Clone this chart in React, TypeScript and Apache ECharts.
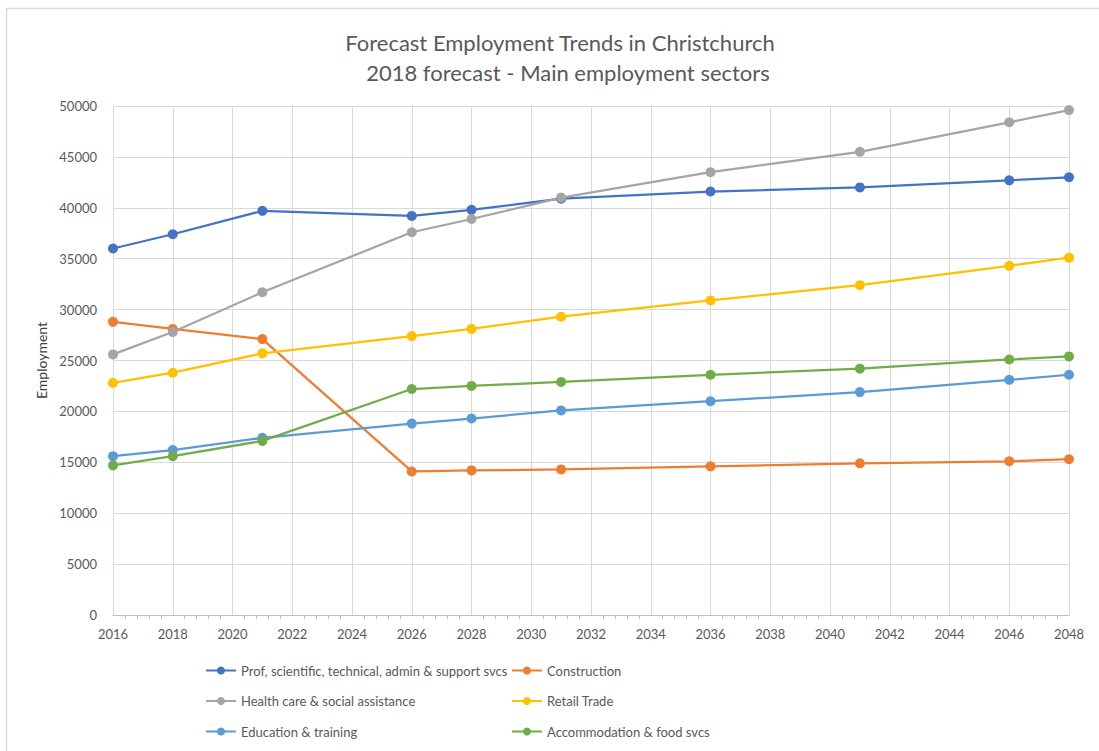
import React, { useEffect, useRef } from "react";
import * as echarts from "echarts";

const years = [2016, 2018, 2021, 2026, 2028, 2031, 2036, 2041, 2046, 2048];
const profValues = [36000, 37400, 39700, 39200, 39800, 40900, 41600, 42000, 42700, 43000];
const constructionValues = [28800, 28100, 27100, 14100, 14200, 14300, 14600, 14900, 15100, 15300];
const healthValues = [25600, 27800, 31700, 37600, 38900, 41000, 43500, 45500, 48400, 49600];
const retailValues = [22800, 23800, 25700, 27400, 28100, 29300, 30900, 32400, 34300, 35100];
const educationValues = [15600, 16200, 17400, 18800, 19300, 20100, 21000, 21900, 23100, 23600];
const accomValues = [14700, 15600, 17100, 22200, 22500, 22900, 23600, 24200, 25100, 25400];

const seriesNames = [
  "Prof, scientific, technical, admin & support svcs",
  "Construction",
  "Health care & social assistance",
  "Retail Trade",
  "Education & training",
  "Accommodation & food svcs",
];
const seriesColors = ["#4472c4", "#ed7d31", "#a5a5a5", "#ffc000", "#5b9bd5", "#70ad47"];
const seriesValues = [profValues, constructionValues, healthValues, retailValues, educationValues, accomValues];

const FONT = "Lato, 'Open Sans', sans-serif";

export default function App() {
  const ref = useRef<HTMLDivElement>(null);
  useEffect(() => {
    if (!ref.current) return;
    const chart = echarts.init(ref.current, undefined, { renderer: "svg" });
    const legendText = { color: "#595959", fontSize: 13, fontFamily: FONT };
    chart.setOption({
      animation: false,
      backgroundColor: "#ffffff",
      textStyle: { fontFamily: FONT },
      title: [
        {
          text: "Forecast Employment Trends in Christchurch",
          left: 555,
          top: 26,
          textAlign: "center",
          textStyle: { color: "#595959", fontSize: 22, fontWeight: "normal", fontFamily: FONT },
        },
        {
          text: "2018 forecast - Main employment sectors",
          left: 563,
          top: 56,
          textAlign: "center",
          textStyle: { color: "#595959", fontSize: 22, fontWeight: "normal", fontFamily: FONT },
        },
      ],
      grid: { left: 113, right: 30, top: 106, bottom: 136, containLabel: false },
      xAxis: {
        type: "value",
        min: 2016,
        max: 2048,
        interval: 2,
        axisLine: { show: true, lineStyle: { color: "#bfbfbf", width: 1 } },
        axisTick: { show: false },
        minorTick: { show: true, splitNumber: 5, length: 4, lineStyle: { color: "#bfbfbf" } },
        splitLine: { show: true, lineStyle: { color: "#d9d9d9", width: 1 } },
        axisLabel: {
          color: "#595959",
          fontSize: 13,
          margin: 12,
          fontFamily: FONT,
          formatter: (v: number) => String(v),
        },
      },
      yAxis: {
        type: "value",
        min: 0,
        max: 50000,
        interval: 5000,
        name: "Employment",
        nameLocation: "middle",
        nameGap: 64,
        nameTextStyle: { color: "#404040", fontSize: 14, fontFamily: FONT },
        axisLine: { show: false },
        axisTick: { show: false },
        splitLine: { show: true, lineStyle: { color: "#d9d9d9", width: 1 } },
        axisLabel: {
          color: "#595959",
          fontSize: 13,
          margin: 16,
          fontFamily: FONT,
          formatter: (v: number) => String(v),
        },
      },
      legend: [
        {
          orient: "vertical",
          left: 200,
          top: 659,
          itemWidth: 30,
          itemHeight: 10,
          itemGap: 17.5,
          textStyle: legendText,
          data: [seriesNames[0], seriesNames[2], seriesNames[4]],
        },
        {
          orient: "vertical",
          left: 506,
          top: 659,
          itemWidth: 30,
          itemHeight: 10,
          itemGap: 17.5,
          textStyle: legendText,
          data: [seriesNames[1], seriesNames[3], seriesNames[5]],
        },
      ],
      graphic: [
        { type: "line", shape: { x1: 6, y1: 8.5, x2: 1099, y2: 8.5 }, style: { stroke: "#d9d9d9", lineWidth: 1.5 }, silent: true },
        { type: "line", shape: { x1: 6.5, y1: 8, x2: 6.5, y2: 751 }, style: { stroke: "#d9d9d9", lineWidth: 1.5 }, silent: true },
      ],
      series: seriesNames.map((name, i) => ({
        name,
        type: "line",
        data: years.map((y, j) => [y, seriesValues[i][j]]),
        symbol: "circle",
        symbolSize: 10,
        lineStyle: { color: seriesColors[i], width: 2.25 },
        itemStyle: { color: seriesColors[i] },
      })),
    });
    return () => chart.dispose();
  }, []);
  return (
    <div
      ref={ref}
      style={{ position: "fixed", left: 0, top: 0, width: 1099, height: 751 }}
    />
  );
}
